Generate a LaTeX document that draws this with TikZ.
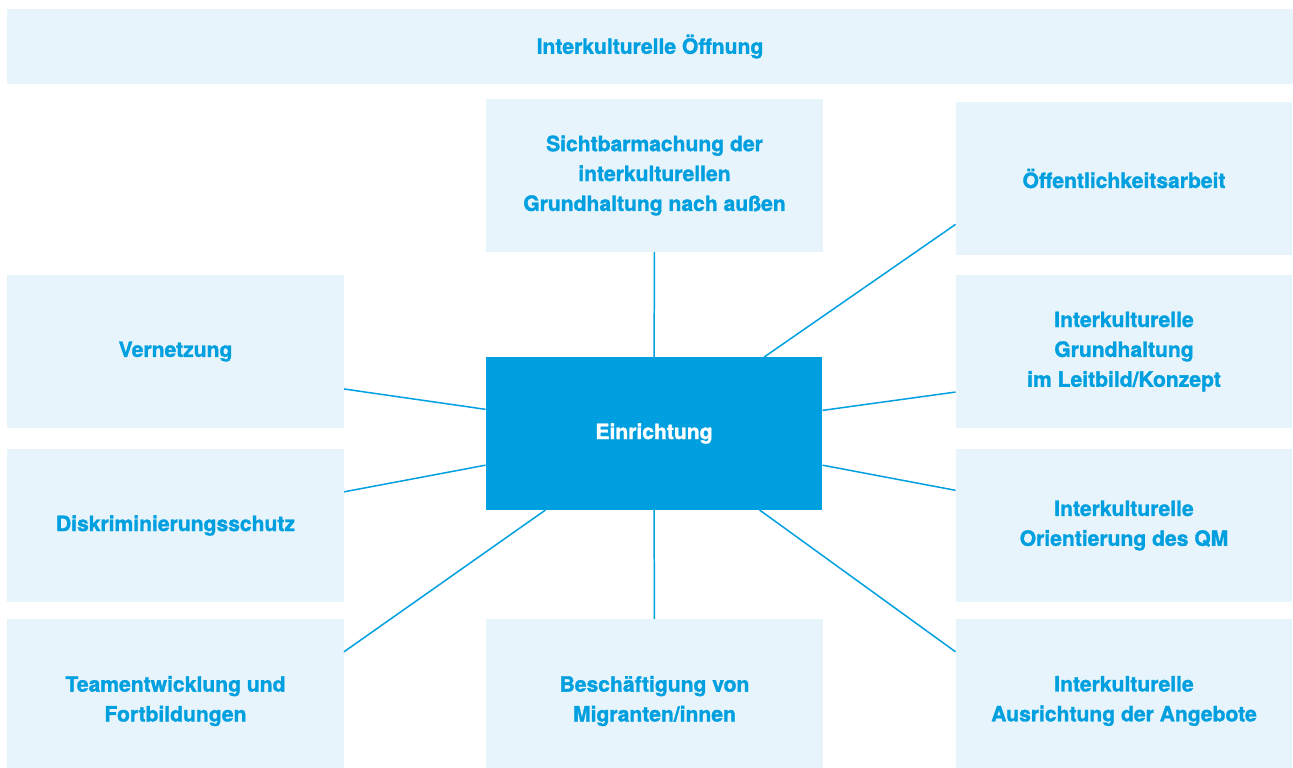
\documentclass[tikz,border=0pt]{standalone}
\usepackage{fontspec}
\setmainfont{TeX Gyre Heros}[BoldFeatures = {FakeBold = 1.4}]
\usepackage{tikz}
\usetikzlibrary{calc}
\usetikzlibrary{positioning}
\definecolor{ioblue}{HTML}{009FDF}
\definecolor{iolight}{HTML}{E8F4FB}
\tikzset{
  field/.style = {fill = iolight, text = ioblue, font = \bfseries\fontsize{12}{17}\selectfont,
    align = center, inner sep = 0pt, outer sep = 0pt,
    minimum width = 6.74cm, minimum height = 3.06cm},
  core/.style = {field, fill = ioblue, text = white},
  spoke/.style = {draw = ioblue, line width = 0.85pt}
}

\begin{document}
\begin{tikzpicture}[x = 0.02cm, y = -0.02cm]
    \useasboundingbox (0,0) rectangle (1293,767);
    \node [field, minimum width = 25.72cm, minimum height = 1.5cm] (oeffnung) at (650,46.5) {Interkulturelle Öffnung};
    \node [core] (ein) at (654,433.5) {Einrichtung};
    \node [field] (sicht) at (654.5,175.5) {Sichtbarmachung der\\interkulturellen\\Grundhaltung nach außen};
    \node [field] (pr) at (1124,178.5) {Öffentlichkeitsarbeit};
    \node [field] (vernetz) at (175.5,351.5) {Vernetzung};
    \node [field] (leitbild) at (1124,351.5) {Interkulturelle\\Grundhaltung\\im Leitbild/Konzept};
    \node [field] (diskr) at (175.5,525.5) {Diskriminierungsschutz};
    \node [field] (qm) at (1124,525.5) {Interkulturelle\\Orientierung des QM};
    \node [field, minimum height = 3.28cm] (team) at (175.5,701) {Teamentwicklung und\\Fortbildungen};
    \node [field, minimum height = 3.28cm] (besch) at (654.5,701) {Beschäftigung von\\Migranten/innen};
    \node [field, minimum height = 3.28cm] (angebot) at (1124,701) {Interkulturelle\\Ausrichtung der Angebote};
    % spokes
    \draw [spoke] (ein) -- (sicht);
    \draw [spoke] (ein) -- (besch);
    \draw [spoke] (ein) -- ($(pr.north west)!0.8!(pr.south west)$);
    \draw [spoke] (ein) -- ($(vernetz.north east)!0.745!(vernetz.south east)$);
    \draw [spoke] (ein) -- ($(leitbild.north west)!0.765!(leitbild.south west)$);
    \draw [spoke] (ein) -- ($(diskr.north east)!0.28!(diskr.south east)$);
    \draw [spoke] (ein) -- ($(qm.north west)!0.27!(qm.south west)$);
    \draw [spoke] (ein) -- ($(team.north east)!0.2!(team.south east)$);
    \draw [spoke] (ein) -- ($(angebot.north west)!0.2!(angebot.south west)$);
\end{tikzpicture}
\end{document}
